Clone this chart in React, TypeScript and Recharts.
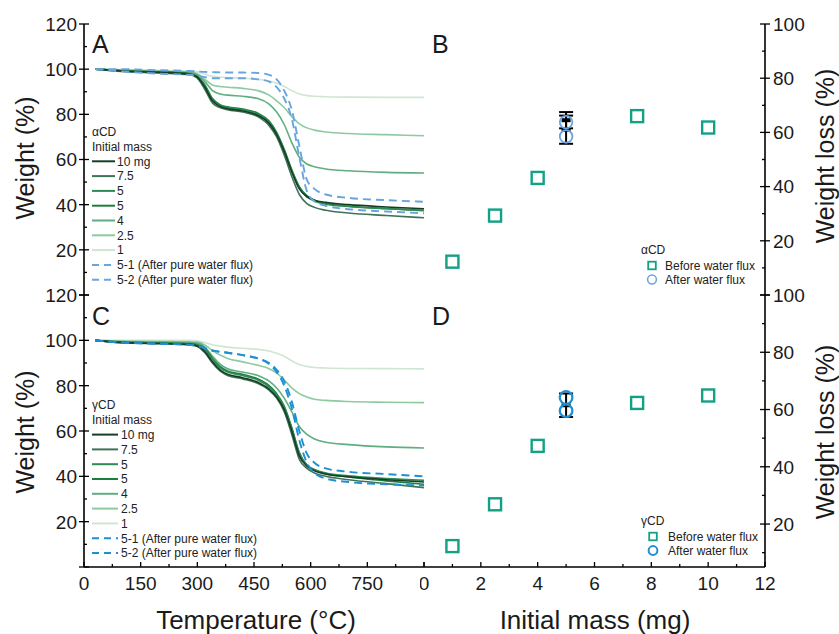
import React from "react";
import { LineChart, Line, XAxis, YAxis, ScatterChart, Scatter, ErrorBar } from "recharts";

const FONT = "'Liberation Sans', Arial, Helvetica, sans-serif";

// temperature grid of the TGA curves (°C)
const temps = [30, 100, 200, 280, 300, 320, 340, 360, 380, 420, 460, 490, 510, 530, 550, 570, 590, 610, 640, 700, 800, 900];

// alpha-CD weight (%) by initial mass
const alpha10 = [100, 99.2, 98.6, 97.8, 96.5, 92, 86, 83.5, 82.5, 81.5, 79.5, 76, 71, 63.5, 54.5, 47, 43.5, 42, 41, 40, 39, 38.2];
const alpha75 = [100, 99, 98.3, 97.5, 96, 91, 85, 83, 82, 81, 79, 75, 70, 62, 52.5, 44.5, 40.5, 38.8, 37.5, 36.3, 35.2, 34.2];
const alpha5a = [100, 99.2, 98.6, 97.8, 96.5, 92.5, 86.5, 84, 83, 82, 80, 76.5, 71.5, 64, 55, 47.5, 43.5, 41.5, 40.2, 39.2, 38.2, 37.5];
const alpha5b = [100, 99.3, 98.8, 98, 96.8, 93, 87, 84.3, 83.3, 82.3, 80.5, 77, 72, 64.5, 55.5, 48, 44, 42, 40.5, 39.3, 38.3, 37.3];
const alpha4 = [100, 99.5, 99, 98.5, 97.5, 94.5, 90.5, 89, 88.5, 88, 87, 84.5, 81, 75.5, 67.5, 61, 58, 56.8, 55.8, 55, 54.3, 54];
const alpha25 = [100, 99.6, 99.2, 98.8, 98, 95.5, 93, 92.3, 92, 91.5, 90.5, 88.5, 86, 83, 79, 75.8, 74, 73, 72.2, 71.5, 71, 70.5];
const alpha1 = [100, 99.8, 99.5, 99.2, 98.8, 97.8, 96.8, 96.5, 96.3, 96, 95.5, 94.8, 93.8, 92.3, 90.5, 89, 88.3, 88, 87.8, 87.6, 87.5, 87.5];
const alphaFlux1 = [100, 100, 99.5, 99.2, 99, 98.8, 98.7, 98.6, 98.5, 98.5, 98.3, 97.5, 95.5, 90.5, 82, 66, 51, 47, 44.5, 43, 42, 41.3];
const alphaFlux2 = [100, 99, 98, 97.5, 97, 96.5, 96, 96, 96, 96, 95.5, 94.5, 92, 87, 78, 61, 46, 41.5, 39.5, 38, 37, 36.2];

// gamma-CD weight (%) by initial mass
const gamma10 = [100, 99, 98.6, 98.2, 97.5, 95, 90.5, 87, 85, 83.5, 81.5, 78.5, 75, 69.5, 60, 49, 44.5, 42.5, 41, 39.8, 38.5, 37.5];
const gamma75 = [100, 99, 98.5, 98, 97.3, 94.5, 90, 86.5, 84.5, 83, 81, 78, 74.5, 68.5, 58.5, 47.5, 43.5, 41.5, 40, 38.5, 36.8, 35];
const gamma5a = [100, 99.2, 98.8, 98.5, 98, 96, 91.5, 88, 86, 84.5, 82.5, 79.5, 76, 70.5, 61, 50, 45, 43, 41.5, 40.2, 39, 38.3];
const gamma5b = [100, 99.2, 98.8, 98.5, 98.2, 96.5, 92, 88.5, 86.5, 85, 83, 80, 76.5, 71, 61.5, 50.5, 45, 42.8, 41.2, 39.7, 38, 36.5];
const gamma4 = [100, 99.5, 99.2, 99, 98.8, 97, 93, 89.5, 87.5, 86, 84.5, 82, 79, 74.5, 68.5, 62, 58.5, 56.5, 55, 54, 53, 52.5];
const gamma25 = [100, 99.7, 99.5, 99.3, 99.2, 98, 95.5, 93.5, 92, 90.5, 89, 87.5, 85.5, 82.5, 79, 76.5, 75, 74, 73.5, 73, 72.7, 72.5];
const gamma1 = [100, 100, 100, 100, 99.8, 99, 98, 97.5, 97, 96.5, 96, 95.3, 94.3, 93, 91, 89.3, 88.5, 88, 87.8, 87.6, 87.5, 87.4];
const gammaFlux1 = [100, 99, 98.5, 98, 97.5, 96.5, 95.5, 95, 94.5, 93.5, 92, 90, 87, 82, 73, 60, 50, 46, 43.5, 42, 41, 40];
const gammaFlux2 = [100, 99, 98.5, 98, 97.5, 96.5, 95.5, 95, 94.5, 93.5, 92, 89.5, 86, 80, 70, 56, 46, 41.5, 39, 37.5, 36.5, 36];

// weight loss (%) vs initial mass (mg)
const masses = [1, 2.5, 4, 7.5, 10];
const alphaLoss = [12.3, 29.3, 43.2, 66, 61.8];
const gammaLoss = [12.3, 26.9, 47.3, 62.3, 64.9];
const alphaAfter = [58.5, 63.8];
const gammaAfter = [59.6, 64.2];
const alphaMean5 = [61, 64.5];
const alphaErr5 = [5.2, 3];
const gammaMean5 = [61.5];
const gammaErr5 = [4.1];

const tempTicks = [0, 75, 150, 225, 300, 375, 450, 525, 600, 675, 750, 825, 900];
const weightTicks = [0, 10, 20, 30, 40, 50, 60, 70, 80, 90, 100, 110, 120];
const massTicks = [0, 1, 2, 3, 4, 5, 6, 7, 8, 9, 10, 11, 12];
const lossTicksB = [0, 10, 20, 30, 40, 50, 60, 70, 80, 90, 100];
const lossTicksD = [10, 20, 30, 40, 50, 60, 70, 80, 90, 100];

const massLabels = ["10 mg", "7.5", "5", "5", "4", "2.5", "1"];
const fluxLabels = ["5-1 (After pure water flux)", "5-2 (After pure water flux)"];

const greens = ["#173d27", "#3f7357", "#2e8b57", "#1b7f3c", "#5fae7f", "#8dcaa0", "#cfe6d3"];
const blueA = "#6aa4df";
const blueC = "#1f8fd3";
const teal = "#14a085";

type Series = { key: string; label: string; values: number[]; color: string; dashed: boolean };

function makeSeries(vals: number[][], flux: number[][], blue: string): Series[] {
  const s: Series[] = vals.map((v, i) => ({ key: "s" + i, label: massLabels[i], values: v, color: greens[i], dashed: false }));
  flux.forEach((v, i) => s.push({ key: "f" + i, label: fluxLabels[i], values: v, color: blue, dashed: true }));
  return s;
}

const alphaSeries = makeSeries([alpha10, alpha75, alpha5a, alpha5b, alpha4, alpha25, alpha1], [alphaFlux1, alphaFlux2], blueA);
const gammaSeries = makeSeries([gamma10, gamma75, gamma5a, gamma5b, gamma4, gamma25, gamma1], [gammaFlux1, gammaFlux2], blueC);

function rows(series: Series[]) {
  return temps.map((t, i) => {
    const r: any = { t };
    series.forEach((s) => (r[s.key] = s.values[i]));
    return r;
  });
}

type Side = "left" | "right" | "top" | "bottom";

// draws the tick marks itself: long majors, short minors, labels on majors only
function makeTick(side: Side, major: number, label: boolean, skip: number[] = []) {
  return (props: any) => {
    const { x, y, payload } = props;
    const v = Number(payload.value);
    const isMajor = Math.abs(v / major - Math.round(v / major)) < 1e-6;
    const inLen = isMajor ? 5 : 3;
    const outLen = isMajor && label ? 5 : 0;
    const txt = label && isMajor && !skip.includes(v);
    const common = { fontSize: 19, fontFamily: FONT, fill: "#1a1a1a" };
    if (side === "left")
      return (
        <g>
          <line x1={x - outLen} x2={x + inLen} y1={y} y2={y} stroke="#000" strokeWidth={1.3} />
          {txt && <text x={x - 7} y={y} dy="0.36em" textAnchor="end" {...common}>{v}</text>}
        </g>
      );
    if (side === "right")
      return (
        <g>
          <line x1={x - inLen} x2={x + outLen} y1={y} y2={y} stroke="#000" strokeWidth={1.3} />
          {txt && <text x={x + 8} y={y} dy="0.36em" textAnchor="start" {...common}>{v}</text>}
        </g>
      );
    if (side === "bottom")
      return (
        <g>
          <line x1={x} x2={x} y1={y} y2={y - inLen} stroke="#000" strokeWidth={1.3} />
          {txt && <text x={x} y={y + 16} dy="0.36em" textAnchor="middle" {...common}>{v}</text>}
        </g>
      );
    return (
      <g>
        <line x1={x} x2={x} y1={y} y2={y + inLen} stroke="#000" strokeWidth={1.3} />
      </g>
    );
  };
}

const axisLine = { stroke: "#000", strokeWidth: 1.6 };
const tickBase = { tickLine: false, tickSize: 0, tickMargin: 0, interval: 0 as const, axisLine, allowDataOverflow: true };

function TgaPanel({ series, showX, top }: { series: Series[]; showX: boolean; top: number }) {
  const data = rows(series);
  const drawOrder = [...series.slice(0, 7).reverse(), ...series.slice(7)];
  return (
    <div style={{ position: "absolute", left: 0, top }}>
      <LineChart width={430} height={showX ? 354 : 300} data={data} margin={{ top: showX ? 15 : 24, right: 6, bottom: showX ? 27 : 5, left: 0 }}>
        <XAxis dataKey="t" type="number" domain={[0, 900]} ticks={tempTicks} height={showX ? 40 : 0} tick={makeTick("bottom", 150, showX, [900])} {...tickBase} />
        <XAxis xAxisId="top" orientation="top" dataKey="t" type="number" domain={[0, 900]} ticks={tempTicks} height={0} tick={makeTick("top", 150, false)} {...tickBase} />
        <YAxis type="number" domain={[0, 120]} ticks={weightTicks} width={84} tick={makeTick("left", 20, true, [0])} {...tickBase} />
        <YAxis yAxisId="r" orientation="right" type="number" domain={[0, 120]} ticks={weightTicks} width={0} tick={makeTick("right", 20, false)} {...tickBase} />
        {drawOrder.map((s) => (
          <Line
            key={s.key}
            dataKey={s.key}
            type="monotone"
            stroke={s.color}
            strokeWidth={s.dashed ? 1.9 : 1.6}
            strokeDasharray={s.dashed ? "8 5" : undefined}
            dot={false}
            isAnimationActive={false}
          />
        ))}
      </LineChart>
    </div>
  );
}

const squareShape = (props: any) => (
  <rect x={props.cx - 6} y={props.cy - 6} width={12} height={12} fill="none" stroke={teal} strokeWidth={2.4} />
);
const circleShape = (color: string, w: number) => (props: any) => (
  <circle cx={props.cx} cy={props.cy} r={6.3} fill="none" stroke={color} strokeWidth={w} />
);
const barShape = (props: any) => <rect x={props.cx - 4.5} y={props.cy - 2} width={9} height={4} fill="#000" />;

function LossPanel({ loss, after, mean, err, circle, circleW, showX, top, yMin }: any) {
  const before = masses.map((m, i) => ({ m, v: loss[i] }));
  const afterPts = after.map((v: number) => ({ m: 5, v }));
  const meanPts = mean.map((v: number, i: number) => ({ m: 5, v, e: err[i] }));
  const yTicks = yMin > 0 ? lossTicksD : lossTicksB;
  return (
    <div style={{ position: "absolute", left: 420, top }}>
      <ScatterChart width={419} height={showX ? 354 : 300} margin={{ top: showX ? 15 : 24, right: 0, bottom: showX ? 27 : 5, left: 4 }}>
        <XAxis dataKey="m" type="number" domain={[0, 12]} ticks={massTicks} height={showX ? 40 : 0} tick={makeTick("bottom", 2, showX)} {...tickBase} />
        <XAxis xAxisId="top" orientation="top" dataKey="m" type="number" domain={[0, 12]} ticks={massTicks} height={0} tick={makeTick("top", 2, false)} {...tickBase} />
        <YAxis yAxisId="l" orientation="left" dataKey="v" type="number" domain={[yMin, 100]} ticks={yTicks} width={0} tick={makeTick("left", 20, false)} {...tickBase} />
        <YAxis yAxisId="r" orientation="right" dataKey="v" type="number" domain={[yMin, 100]} ticks={yTicks} width={74} tick={makeTick("right", 20, true, [0])} {...tickBase} />
        <Scatter yAxisId="r" data={meanPts} shape={barShape} isAnimationActive={false}>
          <ErrorBar dataKey="e" direction="y" width={7} stroke="#000" strokeWidth={2} isAnimationActive={false} />
        </Scatter>
        <Scatter yAxisId="r" data={afterPts} shape={circleShape(circle, circleW)} isAnimationActive={false} />
        <Scatter yAxisId="r" data={before} shape={squareShape} isAnimationActive={false} />
      </ScatterChart>
    </div>
  );
}

function TgaLegend({ series, title, x, y0, lineEnd, textX }: any) {
  const step = 14.8;
  return (
    <g fontFamily={FONT} fontSize={12} fill="#222">
      <text x={x} y={y0} dy="0.36em">{title}</text>
      <text x={x} y={y0 + step} dy="0.36em">Initial mass</text>
      {series.map((s: Series, i: number) => {
        const y = y0 + step * (i + 2);
        return (
          <g key={s.key}>
            <line x1={x} x2={lineEnd} y1={y} y2={y} stroke={s.color} strokeWidth={2} strokeDasharray={s.dashed ? "7 5" : undefined} />
            <text x={textX} y={y} dy="0.36em">{s.label}</text>
          </g>
        );
      })}
    </g>
  );
}

function LossLegend({ title, y0, mx, tx, circle, circleW }: any) {
  return (
    <g fontFamily={FONT} fontSize={12} fill="#222">
      <text x={641} y={y0} dy="0.36em">{title}</text>
      <rect x={mx - 3.8} y={y0 + 15.5 - 3.8} width={7.6} height={7.6} fill="none" stroke={teal} strokeWidth={1.8} />
      <text x={tx} y={y0 + 15.5} dy="0.36em">Before water flux</text>
      <circle cx={mx} cy={y0 + 29.5} r={4.4} fill="none" stroke={circle} strokeWidth={circleW} />
      <text x={tx} y={y0 + 29.5} dy="0.36em">After water flux</text>
    </g>
  );
}

export default function App() {
  return (
    <div style={{ position: "absolute", left: 0, top: 0, width: 839, height: 634, background: "#fff", overflow: "hidden" }}>
      <TgaPanel series={alphaSeries} showX={false} top={0} />
      <TgaPanel series={gammaSeries} showX={true} top={280} />
      <LossPanel loss={alphaLoss} after={alphaAfter} mean={alphaMean5} err={alphaErr5} circle={blueA} circleW={1.8} showX={false} top={0} yMin={0} />
      <LossPanel loss={gammaLoss} after={gammaAfter} mean={gammaMean5} err={gammaErr5} circle={blueC} circleW={2.3} showX={true} top={280} yMin={5} />
      <svg width={839} height={634} style={{ position: "absolute", left: 0, top: 0, pointerEvents: "none" }}>
        <g fontFamily={FONT} fill="#1a1a1a">
          <text x={92} y={44} dy="0.36em" fontSize={25}>A</text>
          <text x={432} y={44} dy="0.36em" fontSize={25}>B</text>
          <text x={92} y={316} dy="0.36em" fontSize={25}>C</text>
          <text x={432} y={316} dy="0.36em" fontSize={25}>D</text>
          <text transform="translate(25,158) rotate(-90)" textAnchor="middle" dy="0.36em" fontSize={25}>Weight (%)</text>
          <text transform="translate(25,432) rotate(-90)" textAnchor="middle" dy="0.36em" fontSize={25}>Weight (%)</text>
          <text transform="translate(825,156) rotate(-90)" textAnchor="middle" dy="0.36em" fontSize={25}>Weight loss (%)</text>
          <text transform="translate(825,432) rotate(-90)" textAnchor="middle" dy="0.36em" fontSize={25}>Weight loss (%)</text>
          <text x={256} y={620} textAnchor="middle" dy="0.36em" fontSize={26}>Temperature (°C)</text>
          <text x={595} y={620} textAnchor="middle" dy="0.36em" fontSize={26}>Initial mass (mg)</text>
        </g>
        <TgaLegend series={alphaSeries} title="αCD" x={92} y0={131.7} lineEnd={115} textX={117} />
        <TgaLegend series={gammaSeries} title="γCD" x={92} y0={405} lineEnd={118} textX={121} />
        <LossLegend title="αCD" y0={250} mx={652} tx={665} circle={blueA} circleW={1.5} />
        <LossLegend title="γCD" y0={521} mx={653} tx={668} circle={blueC} circleW={2} />
      </svg>
    </div>
  );
}
